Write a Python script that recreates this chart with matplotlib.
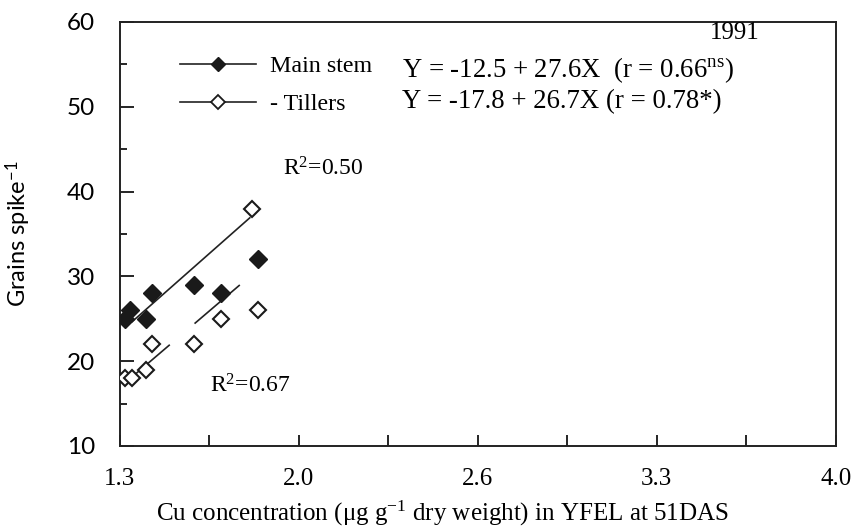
import numpy as np
import matplotlib
matplotlib.use("Agg")
import matplotlib.pyplot as plt
from matplotlib.lines import Line2D

# ---------------------------------------------------------------------------
# Data (1991, grains per spike vs Cu in YFEL at 51DAS)
# ---------------------------------------------------------------------------
main_x = [1.32, 1.34, 1.40, 1.42, 1.58, 1.68, 1.82]
main_y = [25, 26, 25, 28, 29, 28, 32]

till_x = [1.32, 1.345, 1.40, 1.42, 1.58, 1.68, 1.80, 1.82]
till_y = [18, 18, 19, 22, 22, 25, 38, 26]

# regression equations Y = a + bX and the x-spans over which they are drawn
main_fit = (-12.5, 27.6)
main_spans = [(1.345, 1.79)]
till_fit = (-17.8, 26.7)
till_spans = [(1.355, 1.486), (1.584, 1.75)]

x_ticks = [1.3, 1.975, 2.65, 3.325, 4.0]
x_ticklabels = ["1.3", "2.0", "2.6", "3.3", "4.0"]
y_ticks = [10, 20, 30, 40, 50, 60]

plt.rcParams.update({
    "font.family": "Liberation Serif",
    "mathtext.fontset": "custom",
    "mathtext.rm": "Liberation Serif",
    "mathtext.it": "Liberation Serif:italic",
    "mathtext.bf": "Liberation Serif:bold",
    "mathtext.sf": "Lato",
})

fig = plt.figure(figsize=(8.56, 5.32), dpi=100)
ax = fig.add_axes([0.140, 0.1617, 0.8365, 0.797])

# regression lines
for (a, b), spans in ((main_fit, main_spans), (till_fit, till_spans)):
    for x0, x1 in spans:
        xs = np.array([x0, x1])
        ax.plot(xs, a + b * xs, color="#222222", lw=1.2, zorder=2)

ax.plot(main_x, main_y, linestyle="none", marker="D", ms=9,
        mfc="#1a1a1a", mec="#1a1a1a", zorder=3)
ax.plot(till_x, till_y, linestyle="none", marker="D", ms=8.5,
        mfc="white", mec="#1a1a1a", mew=1.5, zorder=3)

ax.set_xlim(1.3, 4.0)
ax.set_ylim(10, 60)
ax.set_xticks(x_ticks)
ax.set_xticklabels(x_ticklabels)
ax.set_xticks([(x_ticks[i] + x_ticks[i + 1]) / 2 for i in range(4)], minor=True)
ax.set_yticks(y_ticks)
ax.set_yticks([15, 25, 35, 45, 55], minor=True)
ax.tick_params(which="both", direction="in", width=1.2, top=False, right=False)
ax.tick_params(axis="x", which="both", length=8, labelsize=18, pad=16)
ax.tick_params(axis="y", which="major", length=10, labelsize=17.5, pad=18)
ax.tick_params(axis="y", which="minor", length=5)
for lbl in ax.get_yticklabels():
    lbl.set_family("Lato")
for sp in ax.spines.values():
    sp.set_linewidth(1.4)
    sp.set_color("#222222")

ax.set_xlabel(r"Cu concentration ($\mathrm{\mu}$g g$^{-1}$ dry weight) in YFEL at 51DAS",
              fontsize=18)
ax.xaxis.set_label_coords(0.451, -0.125)
ax.set_ylabel(r"Grains spike$^{\mathsf{-1}}$", fontsize=17, family="Lato")
ax.yaxis.set_label_coords(-0.1215, 0.5)

# legend with equations
handles = [
    Line2D([], [], color="#222222", lw=1.2, marker="D", ms=7,
           mfc="#1a1a1a", mec="#1a1a1a"),
    Line2D([], [], color="#222222", lw=1.2, marker="D", ms=7,
           mfc="white", mec="#1a1a1a", mew=1.3),
]
ax.legend(handles, ["Main stem", "- Tillers"], loc="upper left",
          bbox_to_anchor=(0.070, 0.944), frameon=False, fontsize=17.3,
          handlelength=3.2, handletextpad=0.55, labelspacing=0.68,
          numpoints=1, borderaxespad=0)
ax.text(0.394, 0.886, r"Y = -12.5 + 27.6X  (r = 0.66$^{\mathrm{ns}}$)",
        transform=ax.transAxes, fontsize=19.3, va="center", ha="left")
ax.text(0.394, 0.811, "Y = -17.8 + 26.7X (r = 0.78*)",
        transform=ax.transAxes, fontsize=19.3, va="center", ha="left")
ax.text(0.894, 0.974, "1991", transform=ax.transAxes, fontsize=18,
        va="center", ha="right")

ax.text(1.917, 42.7, r"R$^2$=0.50", fontsize=17, va="center", ha="left")
ax.text(1.64, 17.1, r"R$^2$=0.67", fontsize=17, va="center", ha="left")

fig.savefig("out.png", dpi=100)
